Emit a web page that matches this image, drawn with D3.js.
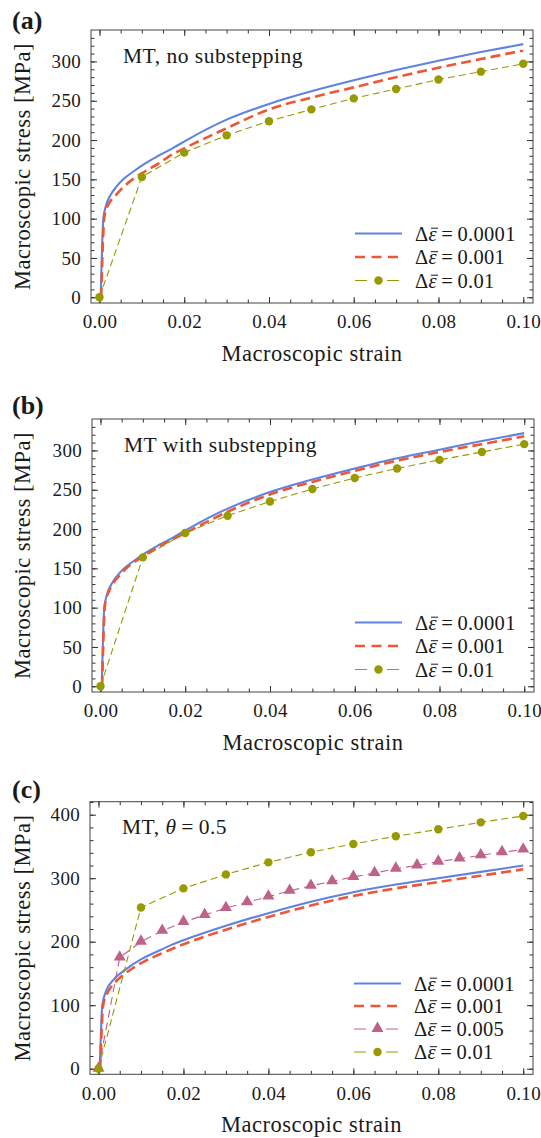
<!DOCTYPE html>
<html>
<head>
<meta charset="utf-8">
<script src="https://cdn.jsdelivr.net/npm/d3@7"></script>
<style>
body { margin: 0; background: #fff; }
svg text { font-family: "Liberation Serif", "Tinos", "DejaVu Serif", serif; fill: #1a1a1a; }
</style>
</head>
<body>
<svg id="fig" width="541" height="1138"></svg>
<script>
// ---- data ----
var xMajorTicks = [0, 0.02, 0.04, 0.06, 0.08, 0.10];
var yMajorTicksAB = [0, 50, 100, 150, 200, 250, 300];
var yMajorTicksC = [0, 100, 200, 300, 400];
var legendValuesAB = ['0.0001', '0.001', '0.01'];
var legendValuesC = ['0.0001', '0.001', '0.005', '0.01'];

// strains of the coarse increments
var strainStep01 = [0, 0.01, 0.02, 0.03, 0.04, 0.05, 0.06, 0.07, 0.08, 0.09, 0.10];
var strainStep005 = [0, 0.005, 0.01, 0.015, 0.02, 0.025, 0.03, 0.035, 0.04, 0.045, 0.05,
                     0.055, 0.06, 0.065, 0.07, 0.075, 0.08, 0.085, 0.09, 0.095, 0.10];

// (a) MT, no substepping
var fineA = [[0.0003, 0], [0.0009, 100], [0.0013, 112], [0.0018, 121], [0.0026, 130], [0.0039, 140],
             [0.0056, 150], [0.008, 160], [0.0107, 170], [0.0139, 180], [0.0174, 190], [0.0206, 200],
             [0.03, 226], [0.04, 246], [0.05, 262], [0.06, 276], [0.07, 289], [0.08, 301], [0.09, 312], [0.10, 322]];
var mediumA = [[0.0004, 0], [0.0011, 100], [0.0015, 110], [0.0023, 120], [0.0039, 130], [0.0056, 140],
               [0.0078, 150], [0.0107, 160], [0.0139, 170], [0.0166, 180], [0.0202, 190], [0.03, 215],
               [0.04, 239], [0.05, 254], [0.06, 267], [0.07, 280], [0.08, 292], [0.09, 303], [0.10, 314]];
var coarseA = [0, 153, 184, 206, 224, 239, 253, 265, 277, 287, 297];

// (b) MT with substepping
var fineB = [[0.0003, 0], [0.0009, 100], [0.0013, 112], [0.0018, 121], [0.0026, 130], [0.0039, 140],
             [0.0056, 150], [0.008, 160], [0.0107, 170], [0.0139, 180], [0.0174, 190], [0.0206, 200],
             [0.03, 226], [0.04, 247], [0.05, 263], [0.06, 277], [0.07, 290], [0.08, 301], [0.09, 312], [0.10, 322]];
var mediumB = [[0.0004, 0], [0.001, 100], [0.0014, 112], [0.002, 121], [0.003, 131], [0.0045, 141],
               [0.0063, 151], [0.0088, 161], [0.0117, 171], [0.015, 181], [0.0186, 191], [0.0222, 201],
               [0.03, 222], [0.04, 244], [0.05, 260], [0.06, 274], [0.07, 287], [0.08, 298], [0.09, 308], [0.10, 318]];
var coarseB = [0, 164, 195, 217, 235, 251, 265, 277, 288, 298, 308];

// (c) MT, theta = 0.5
var fineC = [[0.0003, 0], [0.0009, 100], [0.0019, 124], [0.0035, 140], [0.0055, 152], [0.0078, 163],
             [0.0102, 173], [0.0133, 183], [0.0172, 195], [0.0203, 203], [0.03, 225], [0.04, 245],
             [0.05, 263], [0.06, 278], [0.07, 290], [0.08, 300], [0.09, 310], [0.10, 320]];
var mediumC = [[0.0004, 0], [0.0011, 100], [0.002, 118], [0.0035, 133], [0.0055, 146], [0.008, 158],
               [0.0105, 168], [0.014, 179], [0.02, 196], [0.03, 219], [0.04, 239], [0.05, 257],
               [0.06, 272], [0.07, 284], [0.08, 294], [0.09, 304], [0.10, 314]];
var halfStepC = [0, 175, 200, 217, 231, 242, 253, 262, 271, 280, 288, 295, 302, 308, 315, 320, 326, 331, 336, 341, 345];
var coarseC = [0, 254, 284, 306, 325, 341, 354, 366, 377, 388, 398];

// ---- styles ----
var serif = '"Liberation Serif", "Tinos", "DejaVu Serif", serif';
var styles = {
    fine:   { color: '#5f83df', width: 2.1, dash: null, marker: null },
    medium: { color: '#ee5635', width: 2.6, dash: '10,5', marker: null },
    half:   { color: '#c0618a', width: 1.1, dash: '8,5', marker: 'triangle' },
    coarse: { color: '#999900', width: 1.1, dash: '7,4', marker: 'circle' }
};

var svg = d3.select('#fig').attr('font-family', serif);
svg.append('rect').attr('width', 541).attr('height', 1138).attr('fill', '#fff');

var zip = function(xs, ys) {
    return xs.map(function(x, i) { return [x, ys[i]]; });
};

var drawMarker = function(g, kind, color, px, py) {
    if (kind === 'circle') {
        g.append('circle').attr('cx', px).attr('cy', py).attr('r', 4.2).attr('fill', color);
    } else if (kind === 'triangle') {
        g.append('path').attr('d', d3.symbol().type(d3.symbolTriangle).size(62)())
            .attr('transform', 'translate(' + px + ',' + (py - 0.5) + ')').attr('fill', color);
    }
};

// Δε = value, with the bar over epsilon drawn at the glyph's measured position
var deltaLabel = function(g, t, value, fontSize) {
    t.append('tspan').text('\u0394');
    t.append('tspan').attr('font-style', 'italic').text('\u03B5');
    t.append('tspan').text('\u2009=\u2009' + value);
    var node = t.node();
    var s = node.getStartPositionOfChar(1), e = node.getEndPositionOfChar(1);
    var by = s.y - fontSize * 0.6;
    g.append('line').attr('x1', s.x + fontSize * 0.12).attr('x2', e.x + fontSize * 0.06)
        .attr('y1', by).attr('y2', by).attr('stroke', '#1a1a1a').attr('stroke-width', 1);
};

var drawPanel = function(p, idx) {
    var g = svg.append('g');
    var x = d3.scaleLinear().domain([-0.002, 0.1023]).range([p.left, p.left + p.width]);
    var y = d3.scaleLinear().domain(p.yDomain).range([p.top + p.height, p.top]);
    var bottom = p.top + p.height, right = p.left + p.width;

    // ticks, all pointing inward like a Mathematica frame
    var xMinor = d3.range(0, 0.1001, 0.005);
    var yMinor = d3.range(0, p.yDomain[1], p.yMinorStep);
    var axes = [
        [d3.axisBottom(x), 'translate(0,' + bottom + ')', true],
        [d3.axisTop(x), 'translate(0,' + p.top + ')', false],
        [d3.axisLeft(y), 'translate(' + p.left + ',0)', true],
        [d3.axisRight(y), 'translate(' + right + ',0)', false]
    ];
    axes.forEach(function(a, i) {
        var isX = i < 2;
        var major = a[0].tickValues(isX ? xMajorTicks : p.yMajor).tickSizeInner(-6).tickSizeOuter(0)
            .tickPadding(isX ? 12 : 10)
            .tickFormat(a[2] ? (isX ? d3.format('.2f') : d3.format('d')) : '');
        var ga = g.append('g').attr('transform', a[1]).call(major).attr('font-family', serif);
        ga.select('.domain').remove();
        ga.selectAll('line').attr('stroke', '#333');
        ga.selectAll('text').attr('font-size', 19).attr('fill', '#1a1a1a').style('letter-spacing', '0.3px');
        var minorAxis = (i === 0 ? d3.axisBottom(x) : i === 1 ? d3.axisTop(x) : i === 2 ? d3.axisLeft(y) : d3.axisRight(y));
        minorAxis.tickValues(isX ? xMinor : yMinor).tickSizeInner(-3.5).tickSizeOuter(0).tickFormat('');
        var gm = g.append('g').attr('transform', a[1]).call(minorAxis);
        gm.select('.domain').remove();
        gm.selectAll('line').attr('stroke', '#333');
    });

    g.append('rect').attr('x', p.left).attr('y', p.top).attr('width', p.width).attr('height', p.height)
        .attr('fill', 'none').attr('stroke', '#444').attr('stroke-width', 1);

    var clipId = 'clip' + idx;
    g.append('clipPath').attr('id', clipId).append('rect')
        .attr('x', p.left).attr('y', p.top).attr('width', p.width).attr('height', p.height);
    var plot = g.append('g').attr('clip-path', 'url(#' + clipId + ')');

    p.series.forEach(function(s) {
        var st = styles[s.style];
        var line = d3.line().x(function(d) { return x(d[0]); }).y(function(d) { return y(d[1]); })
            .curve(st.marker ? d3.curveLinear : d3.curveMonotoneX);
        plot.append('path').attr('d', line(s.data)).attr('fill', 'none')
            .attr('stroke', st.color).attr('stroke-width', st.width)
            .attr('stroke-dasharray', st.dash);
        if (st.marker) {
            s.data.forEach(function(d) { drawMarker(plot, st.marker, st.color, x(d[0]), y(d[1])); });
        }
    });

    // legend
    p.series.forEach(function(s, i) {
        var st = styles[s.style];
        var ly = p.legendY[i];
        var lx0 = p.legendX, lx1 = p.legendX + 47;
        var sample = g.append('line').attr('x1', lx0).attr('x2', lx1).attr('y1', ly).attr('y2', ly)
            .attr('stroke', st.color).attr('stroke-width', st.width);
        if (st.marker) {
            sample.attr('stroke-dasharray', '12,20');
            drawMarker(g, st.marker, st.color, (lx0 + lx1) / 2, ly);
        } else if (st.dash) {
            sample.attr('stroke-dasharray', '10,6.5');
        }
        var t = g.append('text').attr('x', p.legendX + 60).attr('y', ly + 7)
            .attr('font-size', 20.5).style('letter-spacing', '0.3px');
        deltaLabel(g, t, p.legendValues[i], 20.5);
    });

    // annotation, tag and axis titles
    var note = g.append('text').attr('x', p.noteX).attr('y', p.noteY).attr('font-size', 21.5)
        .style('letter-spacing', '0.5px');
    p.note(note);
    g.append('text').attr('x', 12).attr('y', p.tagY).attr('font-size', 26).attr('font-weight', 'bold')
        .text(p.tag);
    g.append('text').attr('x', p.left + p.width / 2).attr('y', bottom + 58).attr('text-anchor', 'middle')
        .attr('font-size', 22.5).style('letter-spacing', '0.5px').text('Macroscopic strain');
    g.append('text').attr('transform', 'translate(30,' + (p.top + p.height / 2) + ') rotate(-90)')
        .attr('text-anchor', 'middle').attr('font-size', 22.5).style('letter-spacing', '0.5px')
        .text('Macroscopic stress [MPa]');
};

var panels = [
    {
        left: 91, top: 30, width: 442, height: 273, yDomain: [-7.3, 340], yMajor: yMajorTicksAB, yMinorStep: 10,
        series: [{ style: 'fine', data: fineA }, { style: 'medium', data: mediumA },
                 { style: 'coarse', data: zip(strainStep01, coarseA) }],
        legendX: 355, legendY: [233.5, 257, 280.5], legendValues: legendValuesAB,
        noteX: 123, noteY: 63, note: function(t) { t.text('MT, no substepping'); },
        tag: '(a)', tagY: 29
    },
    {
        left: 92, top: 419, width: 442, height: 273, yDomain: [-7.3, 340], yMajor: yMajorTicksAB, yMinorStep: 10,
        series: [{ style: 'fine', data: fineB }, { style: 'medium', data: mediumB },
                 { style: 'coarse', data: zip(strainStep01, coarseB) }],
        legendX: 355, legendY: [622.5, 646, 669.5], legendValues: legendValuesAB,
        noteX: 124, noteY: 452, note: function(t) { t.text('MT with substepping'); },
        tag: '(b)', tagY: 414
    },
    {
        left: 90, top: 801.7, width: 443, height: 272.6, yDomain: [-8.8, 420.5], yMajor: yMajorTicksC, yMinorStep: 20,
        series: [{ style: 'fine', data: fineC }, { style: 'medium', data: mediumC },
                 { style: 'half', data: zip(strainStep005, halfStepC) },
                 { style: 'coarse', data: zip(strainStep01, coarseC) }],
        legendX: 354, legendY: [983.5, 1006, 1029, 1052], legendValues: legendValuesC,
        noteX: 122, noteY: 833.5,
        note: function(t) {
            t.append('tspan').text('MT, ');
            t.append('tspan').attr('font-style', 'italic').text('\u03B8');
            t.append('tspan').text('\u2009=\u20090.5');
        },
        tag: '(c)', tagY: 798
    }
];

panels.forEach(drawPanel);
</script>
</body>
</html>
